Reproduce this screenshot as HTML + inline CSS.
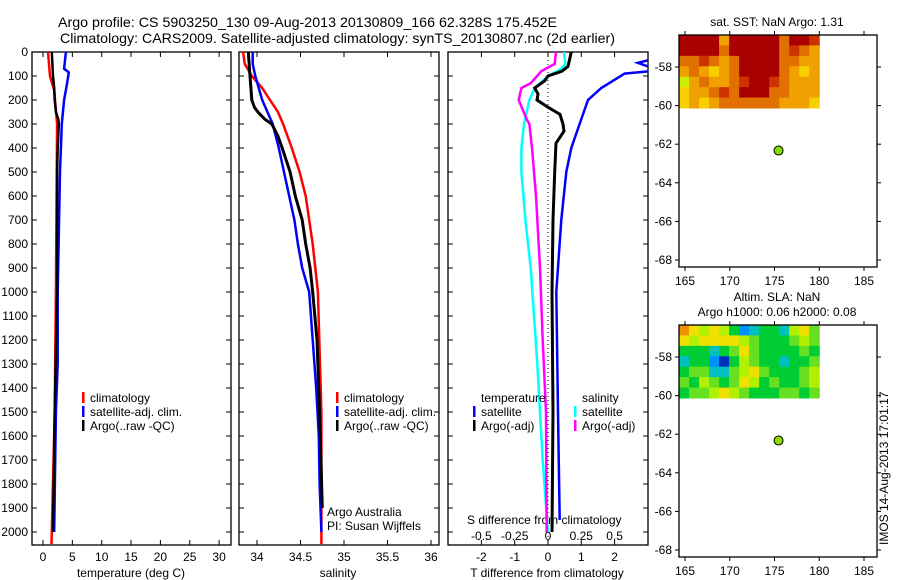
<!DOCTYPE html>
<html><head><meta charset="utf-8"><style>
html,body{margin:0;padding:0;background:#fff;}
svg{display:block;font-family:"Liberation Sans",sans-serif;}
</style></head><body>
<svg id="chart" width="900" height="580" viewBox="0 0 900 580" xmlns="http://www.w3.org/2000/svg">
<defs>
<clipPath id="c1"><rect x="32" y="52" width="199" height="493"/></clipPath>
<clipPath id="c2"><rect x="239" y="52" width="200" height="493"/></clipPath>
<clipPath id="c3"><rect x="448" y="52" width="200" height="493"/></clipPath>
</defs>
<text x="58" y="27" font-size="14" textLength="499" lengthAdjust="spacingAndGlyphs">Argo profile: CS 5903250_130 09-Aug-2013 20130809_166 62.328S 175.452E</text>
<text x="60" y="43" font-size="14" textLength="555" lengthAdjust="spacingAndGlyphs">Climatology: CARS2009. Satellite-adjusted climatology: synTS_20130807.nc (2d earlier)</text>
<g id="g"></g>
</svg>
<script>
// ---- profile data (depth in dbar) ----
const tDepth = [0,100,160,300,1000,1500,2000,2050];
const tClim = [0.85,1.2,1.9,2.4,2.2,2.0,1.5,1.45];
const tSatDepth = [0,70,85,130,200,300,500,1000,1300,1500,2000];
const tSat = [3.9,3.6,4.4,4.1,3.6,3.2,2.9,2.5,2.5,2.2,1.9];
const tArgoDepth = [0,100,150,200,250,280,300,350,400,500,700,1000,1500,2000];
const tArgo = [1.5,1.7,1.9,2.0,2.2,2.6,2.7,2.6,2.5,2.4,2.4,2.4,2.0,1.7];

const sClimDepth = [0,50,100,150,200,250,300,400,500,600,700,800,900,1000,1500,2050];
const sClim = [33.84,33.86,33.94,34.06,34.15,34.24,34.30,34.40,34.49,34.56,34.60,34.64,34.67,34.70,34.74,34.74];
const sArgoDepth = [0,100,200,230,250,280,300,350,400,500,600,700,800,900,1000,1200,1500,1900];
const sArgo = [33.90,33.92,33.94,33.97,34.01,34.09,34.17,34.24,34.29,34.38,34.44,34.52,34.56,34.61,34.64,34.69,34.72,34.75];
const sSatDepth = [0,50,100,200,300,400,500,600,700,800,900,1000,1200,1400,1600,1800,2000];
const sSat = [33.95,33.95,33.98,34.06,34.18,34.25,34.31,34.37,34.43,34.47,34.52,34.60,34.64,34.68,34.71,34.72,34.74];

const dTSatDepth = [0,35,45,60,78,90,150,200,300,400,500,700,1000,1500,1950];
const dTSat = [3.5,3.0,2.7,3.0,3.2,2.3,1.6,1.2,0.95,0.7,0.55,0.4,0.25,0.3,0.35];
const dTArgoDepth = [0,60,80,100,120,150,175,200,230,250,260,300,330,380,500,700,1000,1500,2000];
const dTArgo = [0.7,0.6,0.42,0,-0.1,-0.4,-0.3,-0.33,0,0.24,0.36,0.45,0.48,0.24,0.2,0.15,0.12,0.15,0.12];
const dSSatDepth = [0,50,70,100,150,200,300,400,500,700,900,1300,1700,2000];
const dSSat = [0.12,0.13,0.1,0,-0.1,-0.14,-0.18,-0.2,-0.2,-0.17,-0.13,-0.08,-0.04,0];
const dSArgoDepth = [0,50,80,130,150,200,240,280,300,400,600,900,1200,1500,2000];
const dSArgo = [0.06,0.05,-0.05,-0.13,-0.2,-0.22,-0.19,-0.16,-0.14,-0.12,-0.09,-0.06,-0.04,-0.015,-0.01];

// ---- tick labels ----
const depthTicks = [0,100,200,300,400,500,600,700,800,900,1000,1100,1200,1300,1400,1500,1600,1700,1800,1900,2000];
const tempTicks = [0,5,10,15,20,25,30];
const salTicks = [34,34.5,35,35.5,36];
const salTickLabels = ["34","34.5","35","35.5","36"];
const dTTicks = [-2,-1,0,1,2];
const dSTicks = [-0.5,-0.25,0,0.25,0.5];
const dSTickLabels = ["-0.5","-0.25","0","0.25","0.5"];
const lonTicks = [165,170,175,180,185];
const latTicks = [-58,-60,-62,-64,-66,-68];
const argoLon = 175.452, argoLat = -62.328;

// ---- map grids (14 x 7 colour classes) ----
const sstGrid = [
[0,0,0,0,3,0,0,0,0,0,2,0,0,1],
[0,0,0,0,2,0,0,0,0,0,2,1,2,3],
[2,2,1,2,3,2,0,0,0,0,2,2,3,3],
[3,2,3,4,3,2,0,0,0,0,2,3,4,3],
[5,3,2,3,3,2,1,0,0,1,2,3,3,3],
[4,3,3,2,1,2,0,0,0,2,2,3,3,3],
[4,3,4,3,2,2,2,2,2,2,3,3,3,4]];
const slaGrid = [
[7,6,5,6,5,3,1,2,3,3,2,5,6,4],
[6,5,6,6,6,6,5,4,3,3,3,4,5,4],
[3,3,3,2,3,4,6,4,3,3,3,3,4,3],
[2,3,3,1,0,3,5,4,3,3,2,3,3,4],
[3,4,4,2,2,4,5,6,4,3,3,3,4,5],
[4,3,5,4,3,4,6,5,3,4,3,3,4,5],
[3,4,4,5,6,5,4,3,3,3,4,4,3,4]];
const sstColors = ["#aa0000","#cc3300","#e07000","#f0a000","#f8d000","#c8f000","#40e000"];
const slaColors = ["#0030c0","#0090ff","#00c0c0","#00cc33","#66e020","#b0f000","#f0e000","#f09000"];

const NS="http://www.w3.org/2000/svg";
const G=document.getElementById('g');
function mk(tag,attrs,parent){const e=document.createElementNS(NS,tag);for(const k in attrs)e.setAttribute(k,attrs[k]);(parent||G).appendChild(e);return e;}
function txt(x,y,s,size,anchor){const e=mk('text',{x:x,y:y,'font-size':size||12,'text-anchor':anchor||'start'});e.textContent=s;return e;}

// scales
const yD = d => 52 + d*0.24;
const xT = v => 43 + v*5.87;
const xS = v => 257 + (v-34)*87;
const xDT = v => 548 + v*33.3;
const xDS = v => 548 + v*133.2;
const xLon = v => 685 + (v-165)*8.95;
const yLat1 = v => 67 + (-58 - v)*19.3;
const yLat2 = v => 357 + (-58 - v)*19.3;

function panel(x,w,name){
  const r=mk('rect',{x:x,y:52,width:w,height:493,fill:'none',stroke:'#000','stroke-width':1.3});
  
  
  depthTicks.forEach(d=>{
    mk('line',{x1:x,x2:x+5,y1:yD(d),y2:yD(d),stroke:'#000'});
    mk('line',{x1:x+w,x2:x+w-5,y1:yD(d),y2:yD(d),stroke:'#000'});
  });
}
panel(32,199,'temperature-panel');
panel(239,200,'salinity-panel');
panel(448,200,'difference-panel');
depthTicks.forEach(d=>{const t=txt(28,yD(d)+4,String(d),12,'end');
  
  });

function xticks(ticks,labels,sc,yLab){
  ticks.forEach((v,i)=>{
    const X=sc(v);
    mk('line',{x1:X,x2:X,y1:52,y2:57,stroke:'#000'});
    mk('line',{x1:X,x2:X,y1:545,y2:540,stroke:'#000'});
    const t=txt(X,yLab,labels[i],12,'middle');
    
    
  });
}
xticks(tempTicks,tempTicks.map(String),xT,561);
xticks(salTicks,salTickLabels,xS,561);
xticks(dTTicks,dTTicks.map(String),xDT,561);
dSTicks.forEach((v,i)=>{const t=txt(xDS(v),540,dSTickLabels[i],12,'middle');
  
  });

let e;
e=txt(131,577,'temperature (deg C)',12,'middle');
e=txt(338,577,'salinity',12,'middle');
e=txt(547,577,'T difference from climatology',12,'middle');
e=txt(467,524,'S difference from climatology',12);

// zero dotted line
e=mk('line',{x1:xDT(0),x2:xDT(0),y1:52,y2:545,stroke:'#000','stroke-dasharray':'1,3'});


function line(depths,vals,sc,color,clip,name,sw){
  const pts=depths.map((d,i)=>sc(vals[i]).toFixed(1)+','+yD(d).toFixed(1)).join(' ');
  const p=mk('polyline',{points:pts,fill:'none',stroke:color,'stroke-width':sw||2.5,'clip-path':'url(#'+clip+')'});
  
  
}
line(tDepth,tClim,xT,'#ff0000','c1','temp-climatology-line');
line(tSatDepth,tSat,xT,'#0000ff','c1','temp-satellite-line');
line(tArgoDepth,tArgo,xT,'#000','c1','temp-argo-line');
line(sClimDepth,sClim,xS,'#ff0000','c2','sal-climatology-line');
line(sSatDepth,sSat,xS,'#0000ff','c2','sal-satellite-line');
line(sArgoDepth,sArgo,xS,'#000','c2','sal-argo-line',3);
line(dSSatDepth,dSSat,xDS,'#00ffff','c3','sdiff-satellite-line');
line(dSArgoDepth,dSArgo,xDS,'#ff00ff','c3','sdiff-argo-line');
line(dTSatDepth,dTSat,xDT,'#0000ff','c3','tdiff-satellite-line');
line(dTArgoDepth,dTArgo,xDT,'#000','c3','tdiff-argo-line',3);

function legend(x,y,items,name){
  items.forEach((it,i)=>{
    const yy=y+i*14;
    if(it[1]) mk('rect',{x:x,y:yy-10,width:2.5,height:11,fill:it[1]});
    const t=txt(x+8,yy,it[0],12);
    
    
  });
}
const L3=[['climatology','#ff0000'],['satellite-adj. clim.','#0000ff'],['Argo(..raw -QC)','#000']];
legend(82,402,L3,'temp-legend');
legend(336,402,L3,'sal-legend');
legend(473,402,[['temperature',null],['satellite','#0000ff'],['Argo(-adj)','#000']],'tdiff-legend');
legend(574,402,[['salinity',null],['satellite','#00ffff'],['Argo(-adj)','#ff00ff']],'sdiff-legend');
e=txt(327,516,'Argo Australia',12);
e=txt(327,530,'PI: Susan Wijffels',12);

// maps
function map(top,yLat,grid,colors,name,labY){
  const cw=(xLon(180)-679)/14, ch=73/7;
  grid.forEach((row,r)=>row.forEach((c,k)=>{
    mk('rect',{x:679+k*cw,y:top+r*ch,width:cw+0.5,height:ch+0.5,fill:colors[c]});
  }));
  const b=mk('rect',{x:679,y:top,width:198,height:232,fill:'none',stroke:'#000','stroke-width':1.3});
  
  
  lonTicks.forEach(v=>{const X=xLon(v);
    mk('line',{x1:X,x2:X,y1:top,y2:top-4,stroke:'#000'});
    mk('line',{x1:X,x2:X,y1:top+232,y2:top+236,stroke:'#000'});
    const t=txt(X,labY,String(v),12,'middle');
    
    });
  latTicks.forEach(v=>{const Y=yLat(v);
    mk('line',{x1:679,x2:675,y1:Y,y2:Y,stroke:'#000'});
    mk('line',{x1:877,x2:881,y1:Y,y2:Y,stroke:'#000'});
    const t=txt(672,Y+4,String(v),12,'end');
    
    });
  const d=mk('circle',{cx:xLon(argoLon),cy:yLat(argoLat),r:4.5,fill:'#88dd00',stroke:'#000','stroke-width':1});
  
  
}
map(35,yLat1,sstGrid,sstColors,'sst-map',285);
map(325,yLat2,slaGrid,slaColors,'sla-map',575);
e=txt(777,26,'sat. SST: NaN Argo: 1.31',12,'middle');
e=txt(777,301,'Altim. SLA: NaN',12,'middle');
e=txt(777,316,'Argo h1000: 0.06 h2000: 0.08',12,'middle');
e=txt(0,0,'IMOS 14-Aug-2013 17:01:17',12);e.setAttribute('transform','translate(888,545) rotate(-90)');

</script>
</body></html>
